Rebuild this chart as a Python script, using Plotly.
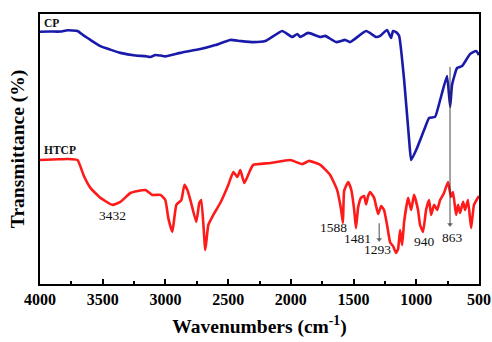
import plotly.graph_objects as go

# CP (blue) spectrum: wavenumber (cm-1) and transmittance (arbitrary offset units)
cp_wn = [4000, 3920, 3837, 3780, 3701, 3650, 3598, 3518, 3440, 3359, 3239, 3160, 3120, 3080, 3040,
         3001, 2881, 2722, 2602, 2483, 2403, 2300, 2204, 2069, 1989, 1949, 1925, 1862, 1766,
         1726, 1639, 1567, 1527, 1400, 1320, 1288, 1233, 1201, 1185, 1161, 1137, 1097,
         1057, 1041, 1001, 938, 898, 850, 810, 755, 730, 715, 675, 635, 571, 523, 500]
cp_t = [93.4, 93.5, 93.5, 94.0, 93.7, 92.0, 90.4, 88.1, 86.8, 85.6, 84.6, 84.4, 84.1, 84.8, 84.6,
        84.3, 85.6, 87.0, 88.5, 90.4, 90.0, 89.6, 90.0, 93.7, 91.5, 92.6, 91.5, 93.0, 91.5,
        91.9, 89.6, 90.4, 89.6, 93.7, 91.5, 91.9, 94.1, 91.1, 93.7, 93.3, 91.9, 75.6,
        53.3, 45.9, 49.6, 57.0, 61.5, 61.9, 68.1, 77.0, 65.6, 73.7, 80.0, 80.7, 85.2, 86.3, 84.8]

# HTCP (red) spectrum
htcp_wn = [4000, 3850, 3780, 3701, 3650, 3598, 3518, 3423, 3359, 3279, 3160, 3104, 3040, 3001,
           2977, 2945, 2913, 2873, 2849, 2825, 2801, 2754, 2730, 2714, 2682, 2658, 2618,
           2563, 2499, 2459, 2427, 2403, 2371, 2324, 2300, 2164, 2005, 1909, 1854, 1766,
           1687, 1631, 1599, 1585, 1575, 1543, 1519, 1495, 1481, 1463, 1440, 1416, 1400,
           1384, 1368, 1336, 1304, 1280, 1257, 1233, 1209, 1185, 1161, 1145, 1129, 1113,
           1097, 1065, 1041, 1018, 986, 970, 946, 922, 898, 882, 858, 834, 810, 779, 747,
           723, 707, 683, 667, 651, 627, 611, 588, 563, 540, 500]
htcp_t = [45.9, 46.2, 46.3, 45.9, 40.0, 35.6, 31.9, 29.3, 30.4, 33.7, 34.8, 33.0, 33.0, 31.1,
          24.4, 19.3, 29.3, 31.1, 36.7, 34.8, 31.1, 23.0, 30.0, 31.1, 12.6, 21.9, 25.6,
          30.0, 36.7, 41.5, 39.6, 42.2, 37.4, 42.2, 44.1, 44.8, 45.9, 44.4, 45.6, 44.1,
          40.4, 34.8, 27.4, 22.6, 34.5, 37.8, 35.0, 27.4, 20.7, 28.5, 32.0, 32.6, 29.5,
          32.6, 34.1, 31.9, 25.9, 28.9, 27.4, 21.9, 15.5, 14.0, 11.5, 13.0, 20.0, 14.4,
          23.0, 31.9, 27.4, 33.0, 27.4, 21.9, 19.3, 27.4, 31.1, 25.6, 29.3, 27.4, 31.1, 33.7, 37.8,
          32.2, 34.1, 25.6, 29.3, 26.3, 30.4, 27.4, 31.1, 20.7, 29.3, 32.6]

# peak labels
peak_text = ["3432", "1588", "1481", "1293", "940", "863"]
peak_x = [3423, 1663, 1470, 1312, 938, 715]
peak_y = [25.2, 21.1, 17.0, 12.6, 15.6, 17.4]

# marker arrows (wavenumber, tail y, tip y)
arrow_x = [731, 1296]
arrow_tail = [80.4, 22.5]
arrow_tip = [22.0, 16.5]

series_names = ["CP", "HTCP"]
series_label_y = [96.7, 49.6]

xtick_vals = [4000, 3500, 3000, 2500, 2000, 1500, 1000, 500]

serif = "Liberation Serif"

fig = go.Figure()
fig.add_trace(go.Scatter(x=cp_wn, y=cp_t, mode="lines", name="CP",
                         line=dict(color="#1a1aaa", width=2.6, shape="spline", smoothing=0.4)))
fig.add_trace(go.Scatter(x=htcp_wn, y=htcp_t, mode="lines", name="HTCP",
                         line=dict(color="#ff1a1a", width=2.6, shape="spline", smoothing=0.4)))
for ax_, t0, t1 in zip(arrow_x, arrow_tail, arrow_tip):
    fig.add_trace(go.Scatter(x=[ax_, ax_], y=[t0, t1], mode="lines+markers", hoverinfo="skip",
                             line=dict(color="#333", width=0.9),
                             marker=dict(symbol=["circle", "triangle-down"], size=[0, 5],
                                         color="#333", line=dict(width=0))))

annotations = []
for t, x, y in zip(peak_text, peak_x, peak_y):
    annotations.append(dict(x=x, y=y, text=t, showarrow=False, xanchor="center", yanchor="middle",
                            font=dict(family=serif, size=13.5, color="#111")))
for name, y in zip(series_names, series_label_y):
    annotations.append(dict(x=3985, y=y, text=name, showarrow=False, xanchor="left", yanchor="middle",
                            font=dict(family=serif, size=11.5, color="#111", weight="bold")))

fig.update_layout(
    width=492, height=342,
    margin=dict(l=40, r=13, t=14, b=58, autoexpand=False),
    paper_bgcolor="white", plot_bgcolor="white",
    showlegend=False,
    annotations=annotations,
    xaxis=dict(range=[4000, 500], tickvals=xtick_vals, ticktext=[str(v) for v in xtick_vals],
               automargin=False,
               ticks="inside", ticklen=5, tickwidth=1.5, tickcolor="black",
               minor=dict(dtick=250, tick0=500, ticks="inside", ticklen=3, tickwidth=1.5, tickcolor="black"),
               showline=True, linecolor="black", linewidth=2, mirror=True, showgrid=False, zeroline=False,
               tickfont=dict(family=serif, size=16, color="black", weight="bold"),
               title=dict(text="Wavenumbers (cm<sup>-1</sup>)", standoff=12,
                          font=dict(family=serif, size=19.5, color="black", weight="bold"))),
    yaxis=dict(range=[0, 100], showticklabels=False, ticks="", automargin=False,
               showline=True, linecolor="black", linewidth=2, mirror=True, showgrid=False, zeroline=False,
               title=dict(text="Transmittance (%)", standoff=8,
                          font=dict(family=serif, size=19.5, color="black", weight="bold"))),
)

fig.write_html("out.html")
